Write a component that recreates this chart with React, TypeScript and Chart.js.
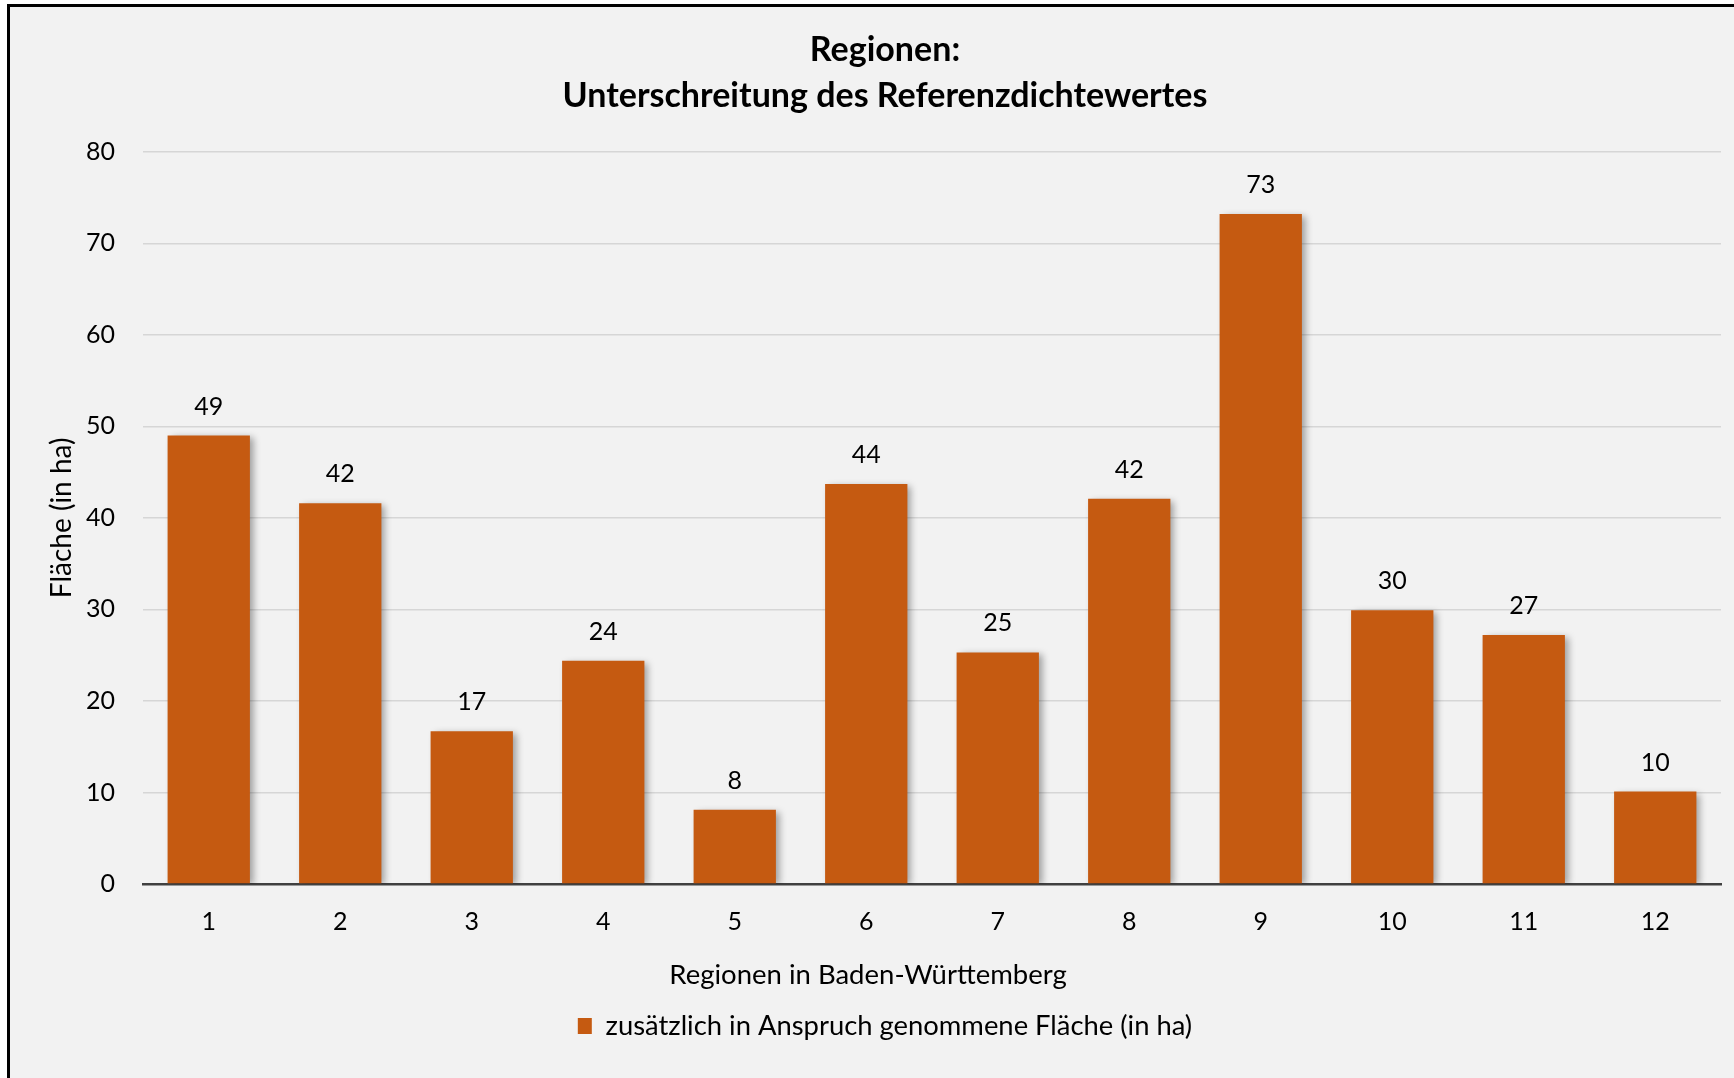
import React, { useEffect, useRef } from "react";
import { Chart, registerables } from "chart.js";

Chart.register(...registerables);

const categories = ["1", "2", "3", "4", "5", "6", "7", "8", "9", "10", "11", "12"];
const values = [49.0, 41.6, 16.7, 24.4, 8.1, 43.7, 25.3, 42.1, 73.2, 29.9, 27.2, 10.1];
const seriesLabel = "zusätzlich in Anspruch genommene Fläche (in ha)";
const titleLines = ["Regionen:", "Unterschreitung des Referenzdichtewertes"];
const xTitle = "Regionen in Baden-Württemberg";
const yTitle = "Fläche (in ha)";
const yMin = 0;
const yMax = 80;
const yStep = 10;

const BAR = "#C55A11";
const FONT = "Lato";
const CW = 1750;
const CH = 1071;

const shadowPlugin = {
  id: "barShadow",
  beforeDatasetsDraw(chart: any) {
    const ctx = chart.ctx;
    ctx.save();
    ctx.shadowColor = "rgba(0,0,0,0.35)";
    ctx.shadowOffsetX = 4;
    ctx.shadowOffsetY = 2;
    ctx.shadowBlur = 7;
  },
  afterDatasetsDraw(chart: any) {
    chart.ctx.restore();
  },
};

const labelPlugin = {
  id: "valueLabels",
  afterDraw(chart: any) {
    const ctx = chart.ctx;
    const meta = chart.getDatasetMeta(0);
    const data = chart.data.datasets[0].data as number[];
    ctx.save();
    ctx.font = `25px ${FONT}`;
    ctx.fillStyle = "#000";
    ctx.textAlign = "center";
    ctx.textBaseline = "middle";
    meta.data.forEach((bar: any, i: number) => {
      ctx.fillText(String(Math.round(data[i])), bar.x, bar.y - 29);
    });
    // x-axis title (sits slightly left of the plot centre in the original)
    const xs = chart.scales.x;
    ctx.font = `27.5px ${FONT}`;
    ctx.fillText(xTitle, (chart.chartArea.left + chart.chartArea.right) / 2 - 64, xs.bottom - 27.5);
    ctx.restore();
  },
};

export default function App() {
  const ref = useRef<HTMLCanvasElement>(null);
  useEffect(() => {
    if (!ref.current) return;
    const chart = new Chart(ref.current, {
      type: "bar",
      data: {
        labels: categories,
        datasets: [
          {
            label: seriesLabel,
            data: values,
            backgroundColor: BAR,
            borderWidth: 0,
            barPercentage: 0.626,
            categoryPercentage: 1,
          },
        ],
      },
      options: {
        responsive: false,
        animation: false,
        devicePixelRatio: 1,
        layout: { padding: { top: 0, right: 0, bottom: 28.3, left: 0 } },
        plugins: {
          tooltip: { enabled: false },
          title: {
            display: true,
            text: titleLines,
            color: "#000",
            font: { family: FONT, size: 34, weight: "bold", lineHeight: 1.365 },
            padding: { top: 19.6, bottom: 32.3 },
          },
          legend: {
            display: true,
            position: "bottom",
            labels: {
              color: "#000",
              font: { family: FONT, size: 27.4 },
              boxWidth: 14,
              boxHeight: 16,
              padding: 10,
            },
          },
        },
        scales: {
          x: {
            z: 1,
            grid: { display: false, drawTicks: false },
            border: { display: true, color: "#404040", width: 2.5 },
            ticks: { color: "#000", font: { family: FONT, size: 25 }, padding: 23 },
            title: { display: false },
            afterFit(scale: any) {
              scale.height = 118.3;
            },
          },
          y: {
            min: yMin,
            max: yMax,
            grid: { color: "#d6d6d6", lineWidth: 1.5, drawTicks: false },
            border: { display: false },
            ticks: { stepSize: yStep, color: "#000", font: { family: FONT, size: 25 }, padding: 28 },
            title: {
              display: true,
              text: yTitle,
              color: "#000",
              font: { family: FONT, size: 28, lineHeight: 1.2 },
              padding: { top: 35.2, bottom: 0 },
            },
            afterFit(scale: any) {
              scale.width = 133;
            },
          },
          yRight: {
            position: "right",
            display: true,
            min: yMin,
            max: yMax,
            grid: { display: false, drawOnChartArea: false, drawTicks: false },
            border: { display: false },
            ticks: { display: false },
            afterFit(scale: any) {
              scale.width = 39;
            },
          },
        },
      },
      plugins: [shadowPlugin, labelPlugin],
    } as any);
    return () => chart.destroy();
  }, []);

  return (
    <div
      style={{
        position: "fixed",
        left: 7,
        top: 4,
        width: 1800,
        height: 1120,
        borderTop: "3px solid #000",
        borderLeft: "3px solid #000",
        background: "#f2f2f2",
        boxSizing: "border-box",
        overflow: "hidden",
      }}
    >
      <canvas ref={ref} width={CW} height={CH} style={{ display: "block", width: CW, height: CH }} />
    </div>
  );
}
